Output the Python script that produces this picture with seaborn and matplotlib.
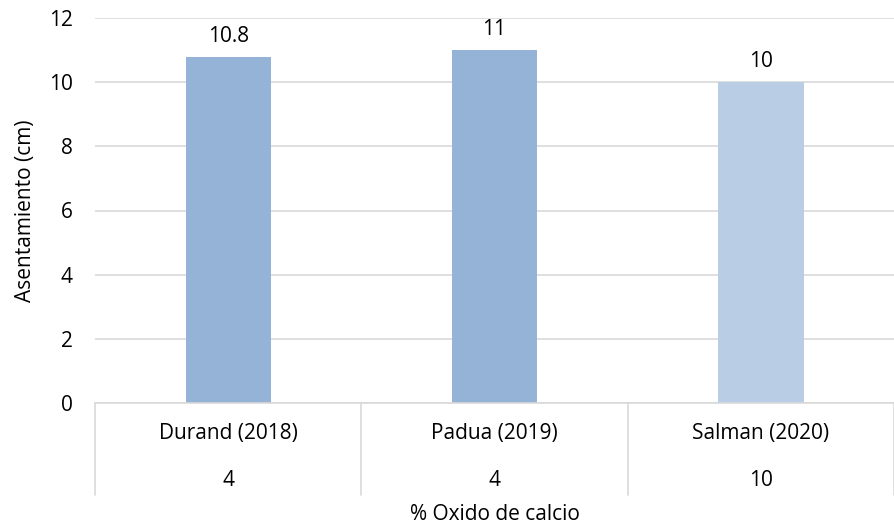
import matplotlib.pyplot as plt
import matplotlib.transforms as mtransforms
import pandas as pd
import seaborn as sns

# Data
autores = ["Durand (2018)", "Padua (2019)", "Salman (2020)"]
oxido = ["4", "4", "10"]
asentamiento = [10.8, 11, 10]
colores = ["#95B3D7", "#95B3D7", "#B9CDE5"]

df = pd.DataFrame({"Autor": autores, "Oxido": oxido, "Asentamiento": asentamiento})

sns.set_style("white")
plt.rcParams["font.family"] = ["Open Sans", "DejaVu Sans"]
plt.rcParams["text.color"] = "#000000"
plt.rcParams["axes.labelcolor"] = "#000000"
plt.rcParams["ytick.color"] = "#000000"
fs = 15

fig = plt.figure(figsize=(8.95, 5.29), dpi=100)
ax = fig.add_axes([95 / 895, 1 - 403 / 529, 1 - 95 / 895 - 0.001, (403 - 18) / 529])

sns.barplot(data=df, x="Autor", y="Asentamiento", hue="Autor",
            palette=colores, width=0.32, legend=False, ax=ax, saturation=1,
            edgecolor="none", linewidth=0)

# value labels above bars
for cont in ax.containers:
    ax.bar_label(cont, fmt="{:g}", padding=7, fontsize=fs, color="#000000")

ax.set_ylim(0, 12)
ax.set_yticks(range(0, 13, 2))
ax.set_xlim(-0.5, len(autores) - 0.5)
ax.yaxis.grid(True, color="#D9D9D9", linewidth=1.2)
ax.set_axisbelow(True)
for s in ["left", "right", "top"]:
    ax.spines[s].set_visible(False)
ax.spines["bottom"].set_color("#D9D9D9")
ax.spines["bottom"].set_linewidth(1.2)
ax.tick_params(axis="y", length=0, labelsize=fs, pad=16)
ax.tick_params(axis="x", length=0)
ax.set_xticks([])
ax.set_xlabel("")
ax.set_ylabel("Asentamiento (cm)", fontsize=fs, labelpad=9)

# two-level category axis, like Excel
trans = mtransforms.blended_transform_factory(ax.transData, ax.transAxes)
h = 403 - 18  # axes height in px
for i, (a, o) in enumerate(zip(autores, oxido)):
    ax.text(i, -30 / h, a, transform=trans, ha="center", va="center", fontsize=fs)
    ax.text(i, -77 / h, o, transform=trans, ha="center", va="center", fontsize=fs)
for i in range(len(autores) + 1):
    ax.plot([i - 0.5, i - 0.5], [0, -92 / h], transform=trans, color="#D9D9D9",
            linewidth=1.2, clip_on=False)
ax.text(0.5, -112 / h, "% Oxido de calcio", transform=ax.transAxes,
        ha="center", va="center", fontsize=fs)

fig.savefig("out.png", dpi=100)
